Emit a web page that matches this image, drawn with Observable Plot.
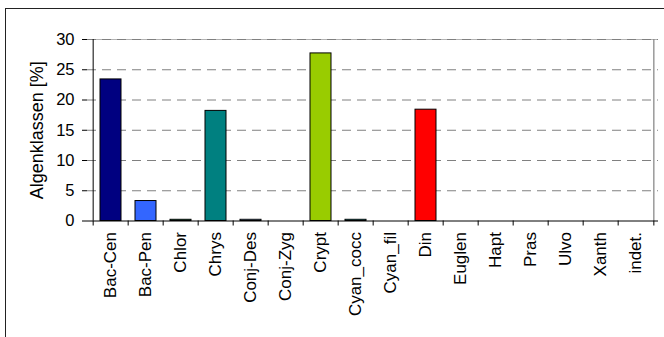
<!DOCTYPE html>
<html>
<head>
<meta charset="utf-8">
<script src="https://cdn.jsdelivr.net/npm/d3@7"></script>
<script src="https://cdn.jsdelivr.net/npm/@observablehq/plot@0.6"></script>
<style>
  html, body { margin: 0; padding: 0; background: #fff; overflow: hidden; }
  #wrap { position: relative; width: 664px; height: 337px; overflow: hidden; }
  #border { position: absolute; left: 5px; top: 8px; width: 700px; height: 400px; border: 1.5px solid #222; box-sizing: border-box; }
  #chart { position: absolute; left: 0; top: 0; }
</style>
</head>
<body>
<div id="wrap">
  <div id="border"></div>
  <div id="chart"></div>
</div>
<script>
const categories = ["Bac-Cen","Bac-Pen","Chlor","Chrys","Conj-Des","Conj-Zyg","Crypt","Cyan_cocc","Cyan_fil","Din","Euglen","Hapt","Pras","Ulvo","Xanth","indet."];
const values = [23.4, 3.3, 0.2, 18.2, 0.2, 0, 27.7, 0.2, 0, 18.4, 0, 0, 0, 0, 0, 0];
const colors = ["#000080","#3366FF","#339966","#008080","#99CCFF","#CCFFCC","#99CC00","#33CCCC","#00FFFF","#FF0000","#FF99CC","#FFCC00","#CCFFCC","#00FF00","#FFFF99","#C0C0C0"];
const yTicks = [0, 5, 10, 15, 20, 25, 30];

const data = categories.map((c, i) => ({cat: c, value: values[i], color: colors[i]}));

const W = 664, H = 337, mL = 87, mR = 6, mT = 39, mB = 116.5;
const step = (W - mL - mR) / categories.length;
const last = categories[categories.length - 1];

const chart = Plot.plot({
  width: W,
  height: H,
  marginLeft: mL,
  marginRight: mR,
  marginTop: mT,
  marginBottom: mB,
  style: {fontFamily: "Liberation Sans, Arial, sans-serif", fontSize: "16px", background: "transparent", color: "#000"},
  x: {type: "band", domain: categories, paddingInner: 0.4, paddingOuter: 0.2, label: null},
  y: {type: "linear", domain: [0, 30], label: null},
  marks: [
    Plot.ruleY(yTicks.filter(d => d > 0), {y: d => d, stroke: "#808080", strokeDasharray: "9,6", strokeWidth: 1}),
    Plot.ruleY([30], {y: d => d, stroke: "#808080", strokeWidth: 1, strokeOpacity: 0.6}),
    Plot.ruleX([last], {x: d => d, dx: step / 2, y1: 0, y2: 30, stroke: "#808080", strokeWidth: 1.2}),
    Plot.barY(data, {x: "cat", y: "value", fill: "color", stroke: "#000", strokeWidth: 1}),
    Plot.axisY({ticks: yTicks, tickSize: 5, tickPadding: 8, fontSize: 16.5, label: null}),
    Plot.ruleX([categories[0]], {x: d => d, dx: -step / 2, y1: 0, y2: 30, stroke: "#000", strokeWidth: 1}),
    Plot.ruleY([0], {y: d => d, stroke: "#000", strokeWidth: 1}),
    Plot.axisX({tickSize: 5, dx: -step / 2, tickFormat: () => "", label: null}),
    Plot.axisX({ticks: [last], tickSize: 5, dx: step / 2, tickFormat: () => "", label: null}),
    Plot.axisX({tickSize: 0, tickRotate: -90, tickPadding: 11, fontSize: 17, label: null}),
    Plot.text(["Algenklassen [%]"], {frameAnchor: "left", dx: -50, rotate: -90, textAnchor: "middle", fontSize: 18, text: d => d})
  ]
});
document.getElementById("chart").appendChild(chart);
</script>
</body>
</html>
